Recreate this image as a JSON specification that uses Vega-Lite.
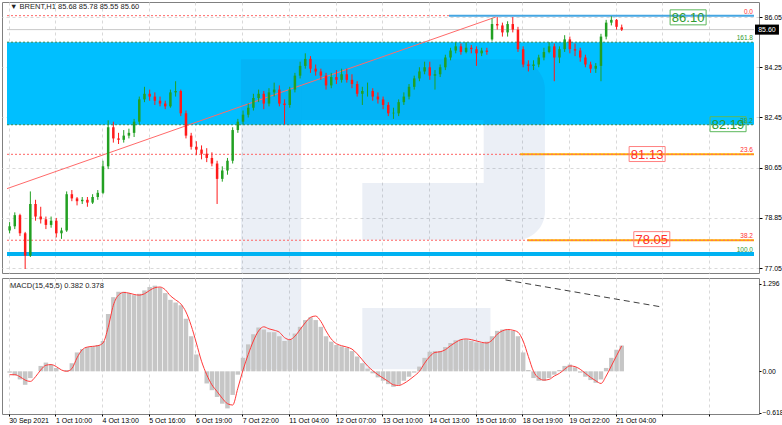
{
  "$schema": "https://vega.github.io/schema/vega-lite/v6.json",
  "padding": {"left": 1, "top": 1, "right": 0, "bottom": 0},
  "background": "white",
  "spacing": 3,
  "config": {
    "font": "Liberation Sans",
    "view": {"stroke": "#808080", "strokeWidth": 1},
    "axis": {"labelFont": "Liberation Sans", "labelFontSize": 7, "labelColor": "#000000", "tickColor": "#000000", "domainColor": "#808080", "gridColor": "#d9d9d9", "gridDash": [3, 3]}
  },
  "datasets": {
    "bars": [
      {"t":0,"o":78.40,"h":78.70,"l":78.30,"c":78.55,"m":-0.02,"s":-0.05},
      {"t":1,"o":78.55,"h":79.05,"l":78.45,"c":78.95,"m":-0.06,"s":-0.05},
      {"t":2,"o":78.95,"h":79.00,"l":78.20,"c":78.30,"m":-0.12,"s":-0.08},
      {"t":3,"o":78.30,"h":78.35,"l":77.02,"c":77.50,"m":-0.20,"s":-0.13},
      {"t":4,"o":77.50,"h":79.80,"l":77.45,"c":79.35,"m":-0.10,"s":-0.15},
      {"t":5,"o":79.35,"h":79.50,"l":78.75,"c":78.90,"m":0.00,"s":-0.08},
      {"t":6,"o":78.90,"h":79.25,"l":78.65,"c":78.80,"m":0.08,"s":0.02},
      {"t":7,"o":78.80,"h":78.90,"l":78.45,"c":78.60,"m":0.13,"s":0.09},
      {"t":8,"o":78.60,"h":78.90,"l":78.50,"c":78.75,"m":0.10,"s":0.10},
      {"t":9,"o":78.75,"h":78.85,"l":78.15,"c":78.30,"m":0.05,"s":0.07},
      {"t":10,"o":78.30,"h":78.50,"l":78.10,"c":78.40,"m":0.00,"s":0.02},
      {"t":11,"o":78.40,"h":79.80,"l":78.35,"c":79.70,"m":0.02,"s":0.00},
      {"t":12,"o":79.70,"h":79.85,"l":79.45,"c":79.55,"m":0.12,"s":0.04},
      {"t":13,"o":79.55,"h":79.60,"l":79.30,"c":79.45,"m":0.28,"s":0.20},
      {"t":14,"o":79.45,"h":79.60,"l":79.35,"c":79.50,"m":0.33,"s":0.32},
      {"t":15,"o":79.50,"h":79.60,"l":79.25,"c":79.40,"m":0.36,"s":0.36},
      {"t":16,"o":79.40,"h":79.70,"l":79.35,"c":79.60,"m":0.37,"s":0.37},
      {"t":17,"o":79.60,"h":79.85,"l":79.50,"c":79.75,"m":0.39,"s":0.38},
      {"t":18,"o":79.75,"h":80.90,"l":79.70,"c":80.70,"m":0.45,"s":0.42},
      {"t":19,"o":80.70,"h":82.35,"l":80.60,"c":82.10,"m":0.85,"s":0.65},
      {"t":20,"o":82.10,"h":82.30,"l":81.55,"c":81.70,"m":1.10,"s":0.98},
      {"t":21,"o":81.70,"h":81.90,"l":81.50,"c":81.65,"m":1.18,"s":1.13},
      {"t":22,"o":81.65,"h":82.00,"l":81.55,"c":81.80,"m":1.18,"s":1.17},
      {"t":23,"o":81.80,"h":82.05,"l":81.70,"c":81.90,"m":1.16,"s":1.16},
      {"t":24,"o":81.90,"h":82.40,"l":81.75,"c":82.30,"m":1.13,"s":1.14},
      {"t":25,"o":82.30,"h":83.20,"l":82.20,"c":83.10,"m":1.15,"s":1.13},
      {"t":26,"o":83.10,"h":83.55,"l":83.00,"c":83.30,"m":1.20,"s":1.15},
      {"t":27,"o":83.30,"h":83.45,"l":83.05,"c":83.20,"m":1.25,"s":1.20},
      {"t":28,"o":83.20,"h":83.35,"l":82.90,"c":83.05,"m":1.27,"s":1.24},
      {"t":29,"o":83.05,"h":83.20,"l":82.85,"c":82.95,"m":1.24,"s":1.25},
      {"t":30,"o":82.95,"h":83.05,"l":82.75,"c":82.85,"m":1.16,"s":1.21},
      {"t":31,"o":82.85,"h":83.45,"l":82.80,"c":83.35,"m":1.06,"s":1.12},
      {"t":32,"o":83.35,"h":83.75,"l":83.20,"c":83.40,"m":1.02,"s":1.06},
      {"t":33,"o":83.40,"h":83.45,"l":82.50,"c":82.60,"m":0.98,"s":1.00},
      {"t":34,"o":82.60,"h":82.70,"l":81.70,"c":81.80,"m":0.78,"s":0.88},
      {"t":35,"o":81.80,"h":81.90,"l":81.30,"c":81.40,"m":0.52,"s":0.68},
      {"t":36,"o":81.40,"h":81.60,"l":81.10,"c":81.30,"m":0.25,"s":0.42},
      {"t":37,"o":81.30,"h":81.45,"l":80.95,"c":81.15,"m":0.00,"s":0.15},
      {"t":38,"o":81.15,"h":81.35,"l":80.85,"c":81.00,"m":-0.18,"s":-0.05},
      {"t":39,"o":81.00,"h":81.20,"l":80.70,"c":80.80,"m":-0.28,"s":-0.20},
      {"t":40,"o":80.80,"h":80.90,"l":79.35,"c":80.25,"m":-0.38,"s":-0.30},
      {"t":41,"o":80.25,"h":80.70,"l":80.15,"c":80.55,"m":-0.48,"s":-0.40},
      {"t":42,"o":80.55,"h":81.00,"l":80.40,"c":80.90,"m":-0.55,"s":-0.48},
      {"t":43,"o":80.90,"h":82.10,"l":80.80,"c":82.00,"m":-0.35,"s":-0.50},
      {"t":44,"o":82.00,"h":82.40,"l":81.90,"c":82.30,"m":-0.05,"s":-0.25},
      {"t":45,"o":82.30,"h":82.70,"l":82.20,"c":82.55,"m":0.20,"s":0.02},
      {"t":46,"o":82.55,"h":82.95,"l":82.45,"c":82.80,"m":0.40,"s":0.25},
      {"t":47,"o":82.80,"h":83.30,"l":82.70,"c":83.15,"m":0.55,"s":0.45},
      {"t":48,"o":83.15,"h":83.45,"l":83.00,"c":83.30,"m":0.65,"s":0.60},
      {"t":49,"o":83.30,"h":83.40,"l":82.75,"c":82.95,"m":0.62,"s":0.66},
      {"t":50,"o":82.95,"h":83.50,"l":82.85,"c":83.35,"m":0.58,"s":0.63},
      {"t":51,"o":83.35,"h":83.70,"l":83.20,"c":83.45,"m":0.58,"s":0.61},
      {"t":52,"o":83.45,"h":83.60,"l":82.85,"c":82.95,"m":0.52,"s":0.58},
      {"t":53,"o":82.95,"h":83.10,"l":82.20,"c":82.90,"m":0.45,"s":0.50},
      {"t":54,"o":82.90,"h":83.55,"l":82.80,"c":83.45,"m":0.47,"s":0.47},
      {"t":55,"o":83.45,"h":84.05,"l":83.35,"c":83.95,"m":0.56,"s":0.52},
      {"t":56,"o":83.95,"h":84.45,"l":83.85,"c":84.30,"m":0.66,"s":0.62},
      {"t":57,"o":84.30,"h":84.75,"l":84.20,"c":84.55,"m":0.76,"s":0.72},
      {"t":58,"o":84.55,"h":84.65,"l":84.05,"c":84.20,"m":0.80,"s":0.80},
      {"t":59,"o":84.20,"h":84.35,"l":83.95,"c":84.10,"m":0.76,"s":0.82},
      {"t":60,"o":84.10,"h":84.20,"l":83.80,"c":83.95,"m":0.66,"s":0.74},
      {"t":61,"o":83.95,"h":84.05,"l":83.45,"c":83.60,"m":0.52,"s":0.60},
      {"t":62,"o":83.60,"h":84.05,"l":83.50,"c":83.90,"m":0.44,"s":0.48},
      {"t":63,"o":83.90,"h":84.15,"l":83.65,"c":83.80,"m":0.39,"s":0.41},
      {"t":64,"o":83.80,"h":84.20,"l":83.70,"c":84.00,"m":0.37,"s":0.38},
      {"t":65,"o":84.00,"h":84.20,"l":83.70,"c":83.80,"m":0.35,"s":0.36},
      {"t":66,"o":83.80,"h":84.00,"l":83.50,"c":83.65,"m":0.30,"s":0.33},
      {"t":67,"o":83.65,"h":83.75,"l":83.20,"c":83.30,"m":0.22,"s":0.26},
      {"t":68,"o":83.30,"h":83.55,"l":82.90,"c":83.40,"m":0.12,"s":0.17},
      {"t":69,"o":83.40,"h":83.70,"l":83.20,"c":83.40,"m":0.04,"s":0.08},
      {"t":70,"o":83.40,"h":83.50,"l":83.05,"c":83.20,"m":-0.03,"s":0.01},
      {"t":71,"o":83.20,"h":83.35,"l":82.95,"c":83.10,"m":-0.09,"s":-0.05},
      {"t":72,"o":83.10,"h":83.20,"l":82.75,"c":82.90,"m":-0.14,"s":-0.10},
      {"t":73,"o":82.90,"h":83.00,"l":82.50,"c":82.60,"m":-0.19,"s":-0.15},
      {"t":74,"o":82.60,"h":82.80,"l":82.40,"c":82.62,"m":-0.23,"s":-0.20},
      {"t":75,"o":82.60,"h":83.10,"l":82.50,"c":83.00,"m":-0.20,"s":-0.21},
      {"t":76,"o":83.00,"h":83.35,"l":82.90,"c":83.20,"m":-0.14,"s":-0.18},
      {"t":77,"o":83.20,"h":83.65,"l":83.10,"c":83.55,"m":-0.08,"s":-0.13},
      {"t":78,"o":83.55,"h":83.95,"l":83.45,"c":83.85,"m":-0.02,"s":-0.07},
      {"t":79,"o":83.85,"h":84.25,"l":83.75,"c":84.10,"m":0.07,"s":0.00},
      {"t":80,"o":84.10,"h":84.45,"l":84.00,"c":84.25,"m":0.20,"s":0.12},
      {"t":81,"o":84.25,"h":84.45,"l":83.80,"c":83.95,"m":0.29,"s":0.22},
      {"t":82,"o":83.95,"h":84.15,"l":83.45,"c":84.00,"m":0.30,"s":0.28},
      {"t":83,"o":84.00,"h":84.35,"l":83.90,"c":84.25,"m":0.30,"s":0.29},
      {"t":84,"o":84.25,"h":84.70,"l":84.15,"c":84.60,"m":0.36,"s":0.32},
      {"t":85,"o":84.60,"h":84.95,"l":84.50,"c":84.85,"m":0.42,"s":0.38},
      {"t":86,"o":84.85,"h":85.15,"l":84.75,"c":85.00,"m":0.46,"s":0.43},
      {"t":87,"o":85.00,"h":85.10,"l":84.70,"c":84.80,"m":0.47,"s":0.47},
      {"t":88,"o":84.80,"h":85.15,"l":84.75,"c":84.95,"m":0.47,"s":0.48},
      {"t":89,"o":84.95,"h":85.05,"l":84.75,"c":84.90,"m":0.45,"s":0.47},
      {"t":90,"o":84.90,"h":85.00,"l":84.30,"c":84.75,"m":0.43,"s":0.45},
      {"t":91,"o":84.75,"h":84.95,"l":84.65,"c":84.85,"m":0.42,"s":0.43},
      {"t":92,"o":84.85,"h":84.95,"l":84.70,"c":84.80,"m":0.44,"s":0.42},
      {"t":93,"o":85.25,"h":86.00,"l":85.20,"c":85.80,"m":0.52,"s":0.46},
      {"t":94,"o":85.80,"h":86.05,"l":85.60,"c":85.75,"m":0.60,"s":0.55},
      {"t":95,"o":85.75,"h":85.85,"l":85.35,"c":85.50,"m":0.62,"s":0.60},
      {"t":96,"o":85.50,"h":85.90,"l":85.35,"c":85.80,"m":0.62,"s":0.62},
      {"t":97,"o":85.80,"h":86.05,"l":85.50,"c":85.60,"m":0.60,"s":0.61},
      {"t":98,"o":85.60,"h":85.70,"l":84.80,"c":84.90,"m":0.52,"s":0.58},
      {"t":99,"o":84.90,"h":85.00,"l":84.25,"c":84.35,"m":0.28,"s":0.45},
      {"t":100,"o":84.35,"h":84.50,"l":84.10,"c":84.30,"m":0.02,"s":0.22},
      {"t":101,"o":84.30,"h":84.50,"l":84.15,"c":84.35,"m":-0.10,"s":0.00},
      {"t":102,"o":84.35,"h":84.70,"l":84.25,"c":84.60,"m":-0.14,"s":-0.10},
      {"t":103,"o":84.60,"h":84.95,"l":84.50,"c":84.80,"m":-0.14,"s":-0.13},
      {"t":104,"o":84.80,"h":85.15,"l":84.75,"c":85.00,"m":-0.10,"s":-0.12},
      {"t":105,"o":85.00,"h":85.10,"l":83.75,"c":84.60,"m":-0.05,"s":-0.07},
      {"t":106,"o":84.60,"h":85.00,"l":84.40,"c":84.90,"m":0.02,"s":-0.03},
      {"t":107,"o":84.90,"h":85.40,"l":84.80,"c":85.25,"m":0.08,"s":0.03},
      {"t":108,"o":85.25,"h":85.35,"l":84.75,"c":84.90,"m":0.10,"s":0.08},
      {"t":109,"o":84.90,"h":85.10,"l":84.65,"c":84.85,"m":0.06,"s":0.07},
      {"t":110,"o":84.85,"h":84.95,"l":84.45,"c":84.60,"m":-0.02,"s":0.03},
      {"t":111,"o":84.60,"h":84.70,"l":84.25,"c":84.35,"m":-0.08,"s":-0.03},
      {"t":112,"o":84.35,"h":84.45,"l":84.05,"c":84.20,"m":-0.13,"s":-0.09},
      {"t":113,"o":84.20,"h":84.40,"l":84.05,"c":84.30,"m":-0.17,"s":-0.14},
      {"t":114,"o":84.30,"h":85.45,"l":83.75,"c":85.35,"m":-0.12,"s":-0.18},
      {"t":115,"o":85.35,"h":85.95,"l":85.25,"c":85.85,"m":0.05,"s":-0.07},
      {"t":116,"o":85.85,"h":86.08,"l":85.75,"c":85.95,"m":0.20,"s":0.08},
      {"t":117,"o":85.95,"h":85.98,"l":85.60,"c":85.70,"m":0.32,"s":0.23},
      {"t":118,"o":85.68,"h":85.78,"l":85.55,"c":85.60,"m":0.382,"s":0.378}
    ],
    "zone": [{"a": -0.5, "b": 143.5, "lo": 82.19, "hi": 85.15}],
    "wm": [
      {"r": 0, "a": 44.6, "b": 56.2, "lo": 76.876, "hi": 84.54},
      {"r": 1, "a": 56.2, "b": 103.2, "lo": 82.36, "hi": 84.54},
      {"r": 0, "a": 91.4, "b": 103.2, "lo": 80.10, "hi": 82.36},
      {"r": 2, "a": 68.0, "b": 103.2, "lo": 78.06, "hi": 80.10}
    ],
    "wm2": [
      {"a": 44.6, "b": 56.2, "lo": 0.03, "hi": 1.384},
      {"a": 68.0, "b": 92.7, "lo": 0.03, "hi": 0.94}
    ],
    "lv": [
      {"k": "gy", "a": -0.5, "b": 143.5, "p": 85.60},
      {"k": "or", "a": 98.4, "b": 143.5, "p": 81.13},
      {"k": "or", "a": 99.8, "b": 143.5, "p": 78.05},
      {"k": "bl", "a": 84.7, "b": 143.5, "p": 86.10},
      {"k": "cy", "a": -0.5, "b": 143.5, "p": 77.56},
      {"k": "rd", "a": -0.5, "b": 84.7, "p": 86.10},
      {"k": "rd", "a": -0.5, "b": 143.5, "p": 81.13},
      {"k": "rd", "a": -0.5, "b": 143.5, "p": 78.05},
      {"k": "gd", "a": -0.5, "b": 143.5, "p": 85.15},
      {"k": "gd", "a": -0.5, "b": 143.5, "p": 82.19}
    ],
    "trend": [{"a": -0.5, "b": 93.7, "p1": 79.90, "p2": 86.05}],
    "dash": [{"a": 95.6, "b": 125.5, "v1": 1.355, "v2": 0.957}],
    "fib": [
      {"t": 143.3, "p": 86.10, "s": "0.0", "g": "r"},
      {"t": 143.3, "p": 85.15, "s": "161.8", "g": "g"},
      {"t": 143.3, "p": 82.19, "s": "38.2", "g": "g"},
      {"t": 143.3, "p": 81.13, "s": "23.6", "g": "r"},
      {"t": 143.3, "p": 78.05, "s": "38.2", "g": "r"},
      {"t": 143.3, "p": 77.56, "s": "100.0", "g": "g"}
    ],
    "box": [
      {"t": 130.8, "p": 86.04, "s": "86.10", "g": "g"},
      {"t": 138.5, "p": 82.21, "s": "82.19", "g": "g"},
      {"t": 122.9, "p": 81.14, "s": "81.13", "g": "r"},
      {"t": 123.8, "p": 78.09, "s": "78.05", "g": "r"}
    ],
    "head": [{"t": 0.1, "p": 86.41, "s": "▼ BRENT,H1  85.68 85.78 85.55 85.60"}],
    "tag": [{"t": 146.0, "p": 85.60, "s": "85.60"}],
    "mlab": [{"t": 0.1, "v": 1.27, "s": "MACD(15,45,5) 0.382 0.378"}]
  },
  "vconcat": [
    {
      "width": 757,
      "height": 271,
      "layer": [
        {
          "data": {"name": "zone"},
          "mark": {"type": "rect", "color": "#00bfff"},
          "encoding": {
            "x": {"field": "a", "type": "quantitative", "scale": {"domain": [-0.5, 143.5], "nice": false, "zero": false},
              "axis": {"title": null, "values": [-0.17,4.33,8.83,13.33,17.83,22.33,26.83,31.33,35.83,40.33,44.83,49.33,53.83,58.33,62.83,67.33,71.83,76.33,80.83,85.33,89.83,94.33,98.83,103.33,107.83,112.33,116.83,121.33,125.83,130.33,134.83,139.33], "labels": false, "ticks": false, "domain": false, "grid": true}},
            "x2": {"field": "b"},
            "y": {"field": "lo", "type": "quantitative", "scale": {"domain": [76.876, 86.59], "nice": false, "zero": false},
              "axis": {"title": null, "orient": "right", "values": [77.05,77.95,78.85,79.75,80.65,81.55,82.45,83.35,84.25,85.15,86.05], "format": ".2f", "tickSize": 3, "labelPadding": 2, "domain": false, "grid": true}},
            "y2": {"field": "hi"}
          }
        },
        {
          "data": {"name": "wm"},
          "transform": [{"filter": "datum.r == 0"}],
          "mark": {"type": "rect", "color": "#2050a0", "fillOpacity": 0.09},
          "encoding": {"x": {"field": "a", "type": "quantitative"}, "x2": {"field": "b"}, "y": {"field": "lo", "type": "quantitative"}, "y2": {"field": "hi"}}
        },
        {
          "data": {"name": "wm"},
          "transform": [{"filter": "datum.r == 1"}],
          "mark": {"type": "rect", "color": "#2050a0", "fillOpacity": 0.09, "cornerRadiusTopRight": 40},
          "encoding": {"x": {"field": "a", "type": "quantitative"}, "x2": {"field": "b"}, "y": {"field": "lo", "type": "quantitative"}, "y2": {"field": "hi"}}
        },
        {
          "data": {"name": "wm"},
          "transform": [{"filter": "datum.r == 2"}],
          "mark": {"type": "rect", "color": "#2050a0", "fillOpacity": 0.09, "cornerRadiusBottomRight": 40},
          "encoding": {"x": {"field": "a", "type": "quantitative"}, "x2": {"field": "b"}, "y": {"field": "lo", "type": "quantitative"}, "y2": {"field": "hi"}}
        },
        {
          "data": {"name": "lv"},
          "transform": [{"filter": "datum.k == 'gy'"}],
          "mark": {"type": "rule", "color": "#c8c8c8", "strokeWidth": 1},
          "encoding": {"x": {"field": "a", "type": "quantitative"}, "x2": {"field": "b"}, "y": {"field": "p", "type": "quantitative"}}
        },
        {
          "data": {"name": "lv"},
          "transform": [{"filter": "datum.k == 'or'"}],
          "mark": {"type": "rule", "color": "#ffae00", "strokeWidth": 2},
          "encoding": {"x": {"field": "a", "type": "quantitative"}, "x2": {"field": "b"}, "y": {"field": "p", "type": "quantitative"}}
        },
        {
          "data": {"name": "lv"},
          "transform": [{"filter": "datum.k == 'bl'"}],
          "mark": {"type": "rule", "color": "#45a6e2", "strokeWidth": 2},
          "encoding": {"x": {"field": "a", "type": "quantitative"}, "x2": {"field": "b"}, "y": {"field": "p", "type": "quantitative"}}
        },
        {
          "data": {"name": "lv"},
          "transform": [{"filter": "datum.k == 'cy'"}],
          "mark": {"type": "rule", "color": "#00b2f2", "strokeWidth": 4},
          "encoding": {"x": {"field": "a", "type": "quantitative"}, "x2": {"field": "b"}, "y": {"field": "p", "type": "quantitative"}}
        },
        {
          "data": {"name": "lv"},
          "transform": [{"filter": "datum.k == 'rd'"}],
          "mark": {"type": "rule", "color": "#ff6464", "strokeWidth": 1, "strokeDash": [2, 2]},
          "encoding": {"x": {"field": "a", "type": "quantitative"}, "x2": {"field": "b"}, "y": {"field": "p", "type": "quantitative"}}
        },
        {
          "data": {"name": "lv"},
          "transform": [{"filter": "datum.k == 'gd'"}],
          "mark": {"type": "rule", "color": "#2e8b57", "strokeWidth": 1, "strokeDash": [2, 2]},
          "encoding": {"x": {"field": "a", "type": "quantitative"}, "x2": {"field": "b"}, "y": {"field": "p", "type": "quantitative"}}
        },
        {
          "data": {"name": "trend"},
          "mark": {"type": "rule", "color": "#ff6a6a", "strokeWidth": 1},
          "encoding": {"x": {"field": "a", "type": "quantitative"}, "x2": {"field": "b"}, "y": {"field": "p1", "type": "quantitative"}, "y2": {"field": "p2"}}
        },
        {
          "data": {"name": "bars"},
          "mark": {"type": "rule", "strokeWidth": 1},
          "encoding": {
            "x": {"field": "t", "type": "quantitative"},
            "y": {"field": "l", "type": "quantitative"},
            "y2": {"field": "h"},
            "color": {"condition": {"test": "datum.c >= datum.o", "value": "#22a022"}, "value": "#ff1a1a"}
          }
        },
        {
          "data": {"name": "bars"},
          "mark": {"type": "bar", "width": 2.5},
          "encoding": {
            "x": {"field": "t", "type": "quantitative"},
            "y": {"field": "o", "type": "quantitative"},
            "y2": {"field": "c"},
            "color": {"condition": {"test": "datum.c >= datum.o", "value": "#22a022"}, "value": "#ff1a1a"}
          }
        },
        {
          "data": {"name": "fib"},
          "mark": {"type": "text", "align": "right", "baseline": "bottom", "dy": -1, "fontSize": 6.5},
          "encoding": {
            "x": {"field": "t", "type": "quantitative"},
            "y": {"field": "p", "type": "quantitative"},
            "text": {"field": "s"},
            "color": {"field": "g", "type": "nominal", "scale": {"domain": ["g", "r"], "range": ["#2e9a2e", "#ff3030"]}, "legend": null}
          }
        },
        {
          "data": {"name": "box"},
          "mark": {"type": "point", "shape": "M-1,-0.4167H1V0.4167H-1Z", "size": 1296, "filled": false, "strokeWidth": 1, "opacity": 1},
          "encoding": {
            "x": {"field": "t", "type": "quantitative"},
            "y": {"field": "p", "type": "quantitative"},
            "stroke": {"field": "g", "type": "nominal", "scale": {"domain": ["g", "r"], "range": ["#5cb85c", "#ff8080"]}, "legend": null}
          }
        },
        {
          "data": {"name": "box"},
          "mark": {"type": "text", "align": "center", "baseline": "middle", "fontSize": 13, "dy": 1},
          "encoding": {
            "x": {"field": "t", "type": "quantitative"},
            "y": {"field": "p", "type": "quantitative"},
            "text": {"field": "s"},
            "color": {"field": "g", "type": "nominal", "legend": null}
          }
        },
        {
          "data": {"name": "head"},
          "mark": {"type": "text", "align": "left", "baseline": "middle", "fontSize": 7.5, "color": "#222222"},
          "encoding": {"x": {"field": "t", "type": "quantitative"}, "y": {"field": "p", "type": "quantitative"}, "text": {"field": "s"}}
        },
        {
          "data": {"name": "tag"},
          "mark": {"type": "point", "shape": "M-1,-0.42H1V0.42H-1Z", "size": 576, "filled": true, "color": "#000000", "opacity": 1},
          "encoding": {"x": {"field": "t", "type": "quantitative"}, "y": {"field": "p", "type": "quantitative"}}
        },
        {
          "data": {"name": "tag"},
          "mark": {"type": "text", "align": "center", "baseline": "middle", "fontSize": 7, "color": "#ffffff"},
          "encoding": {"x": {"field": "t", "type": "quantitative"}, "y": {"field": "p", "type": "quantitative"}, "text": {"field": "s"}}
        }
      ]
    },
    {
      "width": 757,
      "height": 136,
      "layer": [
        {
          "data": {"name": "wm2"},
          "mark": {"type": "rect", "color": "#2050a0", "fillOpacity": 0.09},
          "encoding": {
            "x": {"field": "a", "type": "quantitative", "scale": {"domain": [-0.5, 143.5], "nice": false, "zero": false},
              "axis": {"title": null, "values": [-0.17,4.33,8.83,13.33,17.83,22.33,26.83,31.33,35.83,40.33,44.83,49.33,53.83,58.33,62.83,67.33,71.83,76.33,80.83,85.33,89.83,94.33,98.83,103.33,107.83,112.33,116.83,121.33,125.83,130.33,134.83,139.33],
                "labelExpr": "['30 Sep 2021','','1 Oct 10:00','','4 Oct 13:00','','5 Oct 16:00','','6 Oct 19:00','','7 Oct 22:00','','11 Oct 04:00','','12 Oct 07:00','','13 Oct 10:00','','14 Oct 13:00','','15 Oct 16:00','','18 Oct 19:00','','19 Oct 22:00','','21 Oct 04:00','','','','','',''][round((datum.value+0.17)/4.5)]",
                "labelAlign": "left", "labelPadding": 0, "labelOverlap": false, "labelFlush": false, "tickSize": 2, "domain": false, "grid": true}},
            "x2": {"field": "b"},
            "y": {"field": "lo", "type": "quantitative", "scale": {"domain": [-0.633, 1.384], "nice": false, "zero": false},
              "axis": {"title": null, "orient": "right", "values": [-0.618, 0, 1.296], "labelExpr": "datum.value == 0 ? '0.00' : format(datum.value, '.3f')", "labelFontSize": 6.8, "tickSize": 2, "labelPadding": 1, "domain": false, "grid": false}},
            "y2": {"field": "hi"}
          }
        },
        {
          "mark": {"type": "rule", "color": "#b8b8b8", "strokeDash": [1, 2], "strokeWidth": 1},
          "encoding": {"y": {"datum": 0}}
        },
        {
          "data": {"name": "bars"},
          "mark": {"type": "bar", "width": 4.5, "color": "#c6c6c6"},
          "encoding": {"x": {"field": "t", "type": "quantitative"}, "y": {"field": "m", "type": "quantitative"}}
        },
        {
          "data": {"name": "bars"},
          "mark": {"type": "line", "color": "#ff3a3a", "strokeWidth": 1, "interpolate": "monotone"},
          "encoding": {"x": {"field": "t", "type": "quantitative"}, "y": {"field": "s", "type": "quantitative"}}
        },
        {
          "data": {"name": "dash"},
          "mark": {"type": "rule", "color": "#404040", "strokeWidth": 1, "strokeDash": [6, 4]},
          "encoding": {"x": {"field": "a", "type": "quantitative"}, "x2": {"field": "b"}, "y": {"field": "v1", "type": "quantitative"}, "y2": {"field": "v2"}}
        },
        {
          "data": {"name": "mlab"},
          "mark": {"type": "text", "align": "left", "baseline": "middle", "fontSize": 7.5, "color": "#222222"},
          "encoding": {"x": {"field": "t", "type": "quantitative"}, "y": {"field": "v", "type": "quantitative"}, "text": {"field": "s"}}
        }
      ]
    }
  ]
}
